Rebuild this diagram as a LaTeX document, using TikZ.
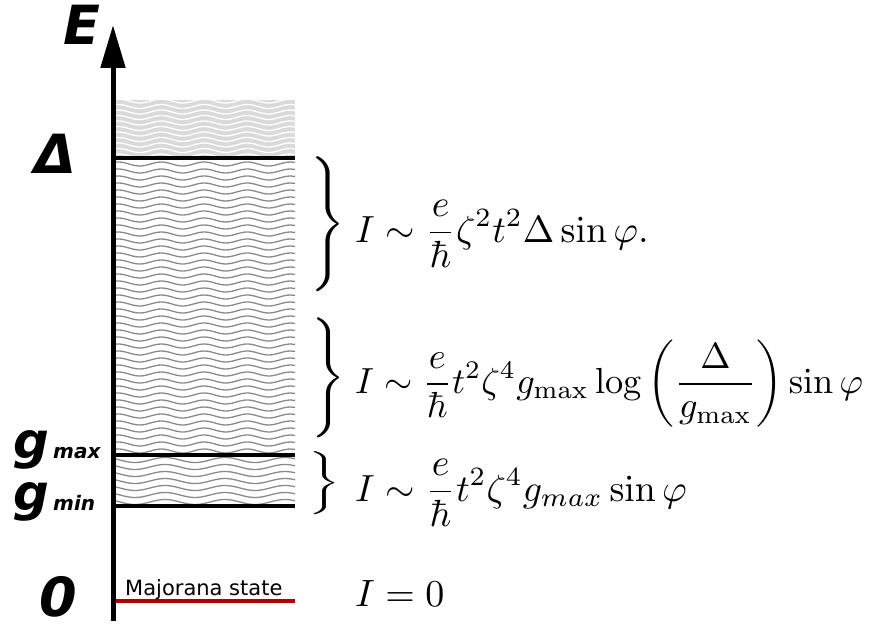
\RequirePackage{fix-cm}
\documentclass[tikz,border=0pt]{standalone}
\usepackage{amsmath}
\usepackage{graphicx}
\usepackage[no-math]{fontspec}
\usetikzlibrary{arrows.meta}
\newfontfamily\lblfont{DejaVu Sans Bold Oblique}
\newfontfamily\txtfont{DejaVu Sans}
\definecolor{bandgray}{HTML}{DADADA}
\definecolor{wavegray}{HTML}{8A8A8A}
\definecolor{majred}{HTML}{B00000}
\newcommand{\fml}[2][3.78]{\scalebox{#1}{\fontsize{10}{12}\selectfont$\displaystyle #2$}}
\begin{document}
\begin{tikzpicture}[x=1pt,y=-1pt,
  level/.style={line width=4pt},
  wave/.style={line width=1.3pt},
  axislbl/.style={anchor=base west,inner sep=0,font=\lblfont\fontsize{54}{60}\selectfont},
  glbl/.style={anchor=base west,inner sep=0,font=\lblfont\fontsize{50}{56}\selectfont},
  sublbl/.style={anchor=base west,inner sep=0,font=\lblfont\fontsize{20}{24}\selectfont},
  formula/.style={anchor=base west,inner sep=0},
  bracenode/.style={anchor=west,inner sep=0}]
\useasboundingbox (0,0) rectangle (871,626);
% continuum above Delta
\fill[bandgray] (116,100) rectangle (295,157);
\begin{scope}
  \clip (116,100) rectangle (295,157);
  \foreach \yy in {101,106.5,...,160}
    \draw[white,wave] plot[domain=110:300,samples=60,smooth] (\x,{\yy+2*sin(\x/43*360)});
\end{scope}
% band between gmax and Delta
\begin{scope}
  \clip (116,160) rectangle (295,453);
  \foreach \yy in {164,171,...,456}
    \draw[wavegray,wave] plot[domain=110:300,samples=60,smooth] (\x,{\yy+2*sin(\x/43*360)});
\end{scope}
% band between gmin and gmax
\begin{scope}
  \clip (116,457) rectangle (295,504);
  \foreach \yy in {460,467,...,506}
    \draw[wavegray,wave] plot[domain=110:300,samples=60,smooth] (\x,{\yy+2.5*sin(\x/60*360)});
\end{scope}
% levels
\coordinate (dL) at (113,158); \coordinate (dR) at (295,158);
\coordinate (gxL) at (113,455); \coordinate (gxR) at (295,455);
\coordinate (gnL) at (113,506); \coordinate (gnR) at (295,506);
\coordinate (mL) at (113,601); \coordinate (mR) at (295,601);
\draw[level] (dL) -- (dR);
\draw[level] (gxL) -- (gxR);
\draw[level] (gnL) -- (gnR);
\draw[level,majred] (mL) -- (mR);
% axis
\coordinate (axbot) at (113,621);
\coordinate (axtop) at (113,25);
\draw[line width=5pt,-{Triangle[length=43pt,width=24pt]}] (axbot) -- (axtop);
% axis labels
\node[axislbl] (E) at (63,45) {E};
\node[axislbl] (D) at (34,173) {Δ};
\node[glbl] (gx) at (13,458) {g};
\node[sublbl] (gxs) at (53,458) {max};
\node[glbl] (gn) at (13,510) {g};
\node[sublbl] (gns) at (53,510) {min};
\node[axislbl] (Z) at (39,616) {0};
\node[anchor=base west,inner sep=0,font=\txtfont\fontsize{21}{25}\selectfont] (maj) at (125,595) {Majorana state};
% braces
\node[bracenode] (b1) at (310,224.5) {\resizebox*{35pt}{135pt}{$\Bigg\}$}};
\node[bracenode] (b2) at (311,378) {\resizebox*{34pt}{120pt}{$\Bigg\}$}};
\node[bracenode] (b3) at (308,483.5) {\resizebox*{32pt}{63pt}{$\Bigg\}$}};
% formulas
\node[formula] (f1) at (355,242) {\fml{I\sim\frac{e}{\hbar}\zeta^2t^2\Delta\sin\varphi.}};
\node[formula] (f2) at (355,393) {\fml[3.63]{I\sim\frac{e}{\hbar}t^2\zeta^4g_{\max}\log\left(\frac{\Delta}{g_{\max}}\right)\sin\varphi}};
\node[formula] (f3) at (355,501) {\fml{I\sim\frac{e}{\hbar}t^2\zeta^4g_{max}\sin\varphi}};
\node[formula] (f4) at (355,606) {\scalebox{3.8}{$I=0$}};
\end{tikzpicture}
\end{document}
